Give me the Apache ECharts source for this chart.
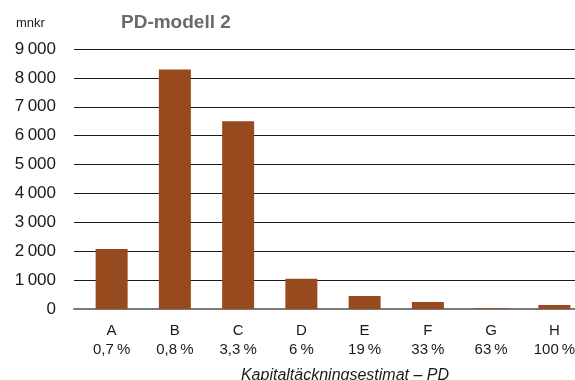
<!DOCTYPE html>
<html>
<head>
<meta charset="utf-8">
<script src="https://cdn.jsdelivr.net/npm/echarts@6/dist/echarts.min.js"></script>
<style>
  html, body { margin: 0; padding: 0; background: #fff; }
  #chart { width: 575px; height: 380px; }
</style>
</head>
<body>
<div id="chart"></div>
<script>
// Exponeringsbelopp per PD-klass, PD-modell 2
const classes = ['A', 'B', 'C', 'D', 'E', 'F', 'G', 'H']
const pdLabels = ['0,7\u2009%', '0,8\u2009%', '3,3\u2009%', '6\u2009%', '19\u2009%', '33\u2009%', '63\u2009%', '100\u2009%']
const values = [2080, 8290, 6500, 1050, 450, 240, 30, 140]
const yTicks = [0, 1000, 2000, 3000, 4000, 5000, 6000, 7000, 8000, 9000]

const font = 'Liberation Sans'
const chart = echarts.init(document.getElementById('chart'), null, { renderer: 'canvas' })

const option = {
  animation: false,
  title: [
    {
      text: 'PD-modell 2',
      left: 116, top: 8,
      textStyle: { fontFamily: font, fontSize: 19, fontWeight: 'bold', color: '#6e6868' }
    },
    {
      text: 'mnkr',
      left: 11, top: 12,
      textStyle: { fontFamily: font, fontSize: 13, fontWeight: 'normal', color: '#222' }
    }
  ],
  grid: [
    // grid 0: value scale + horizontal lines
    { left: 74, right: 0, top: 49, bottom: 71, outerBoundsMode: 'none' },
    // grid 1: the bars and category labels (bands run past the right edge)
    { left: 80, right: -11, top: 49, bottom: 71, outerBoundsMode: 'none' }
  ],
  xAxis: [
    {
      gridIndex: 0,
      type: 'category',
      data: classes,
      axisLine: { show: true, lineStyle: { color: '#7a7a7a', width: 2 } },
      axisTick: { show: false },
      axisLabel: { show: false }
    },
    {
      gridIndex: 1,
      type: 'category',
      data: classes,
      axisLine: { show: false },
      axisTick: { show: false },
      axisLabel: {
        margin: 12,
        fontFamily: font,
        fontSize: 15,
        lineHeight: 19,
        color: '#1a1a1a',
        formatter: (v, i) => v + '\n' + pdLabels[i]
      },
      name: 'Kapitaltäckningsestimat – PD',
      nameLocation: 'middle',
      nameGap: 59,
      nameTextStyle: { fontFamily: font, fontSize: 16, fontStyle: 'italic', color: '#1a1a1a', padding: [0, 0, 0, 24] }
    }
  ],
  yAxis: [
    {
      gridIndex: 0,
      type: 'value',
      min: yTicks[0],
      max: yTicks[yTicks.length - 1],
      interval: 1000,
      axisLine: { show: false },
      axisTick: { show: false },
      axisLabel: {
        margin: 18,
        fontFamily: font,
        fontSize: 17,
        color: '#1a1a1a',
        formatter: v => v >= 1000 ? String(v).replace(/(\d)(\d{3})$/, '$1\u2009$2') : String(v)
      },
      splitLine: { show: true, lineStyle: { color: '#1a1a1a', width: 1 } }
    },
    {
      gridIndex: 1,
      type: 'value',
      min: yTicks[0],
      max: yTicks[yTicks.length - 1],
      interval: 1000,
      show: false
    }
  ],
  series: [
    {
      type: 'bar',
      xAxisIndex: 1,
      yAxisIndex: 1,
      data: values,
      barWidth: 32,
      itemStyle: { color: '#984a1f' },
      silent: true,
      z: 3
    }
  ]
}

chart.setOption(option)
</script>
</body>
</html>
